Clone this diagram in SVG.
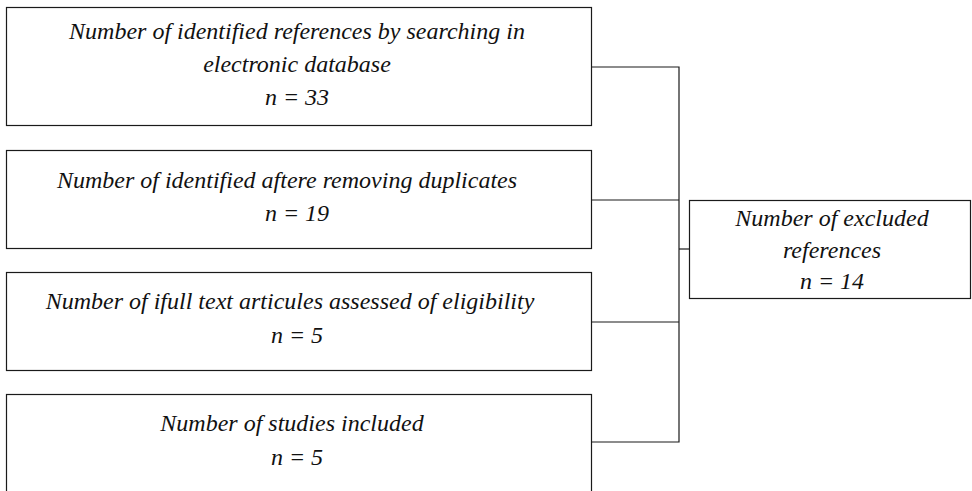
<svg xmlns="http://www.w3.org/2000/svg" width="972" height="491" viewBox="0 0 972 491">
<style>
.box{fill:#fff;stroke:#1a1a1a;stroke-width:1.2}
.ln{fill:none;stroke:#1a1a1a;stroke-width:1.2}
.t{font-family:'Liberation Serif','Times New Roman',serif;font-style:italic;font-size:24px;fill:#111;text-anchor:middle}
</style>
<rect width="972" height="491" fill="#fff"/>
<g id="connectors">
<polyline class="ln" points="592,67 679,67 679,442 592,442"/>
<line class="ln" x1="592" y1="200" x2="679" y2="200"/>
<line class="ln" x1="592" y1="322" x2="679" y2="322"/>
<line class="ln" x1="679" y1="249" x2="689" y2="249"/>
</g>
<g id="node1">
<rect class="box" x="6.5" y="7.5" width="585" height="118"/>
<text class="t" x="297" y="39">Number of identified references by searching in</text>
<text class="t" x="297" y="72">electronic database</text>
<text class="t" x="297" y="105">n = 33</text>
</g>
<g id="node2">
<rect class="box" x="6.5" y="150.5" width="585" height="98"/>
<text class="t" x="287" y="188">Number of identified aftere removing duplicates</text>
<text class="t" x="297" y="221">n = 19</text>
</g>
<g id="node3">
<rect class="box" x="6.5" y="272.5" width="585" height="98"/>
<text class="t" x="290" y="309">Number of ifull text articules assessed of eligibility</text>
<text class="t" x="297" y="343">n = 5</text>
</g>
<g id="node4">
<rect class="box" x="6.5" y="394.5" width="585" height="100"/>
<text class="t" x="292" y="431">Number of studies included</text>
<text class="t" x="297" y="465">n = 5</text>
</g>
<g id="node5">
<rect class="box" x="689.5" y="200.5" width="281" height="98"/>
<text class="t" x="832" y="226">Number of excluded</text>
<text class="t" x="832" y="258">references</text>
<text class="t" x="832" y="289">n = 14</text>
</g>
</svg>
